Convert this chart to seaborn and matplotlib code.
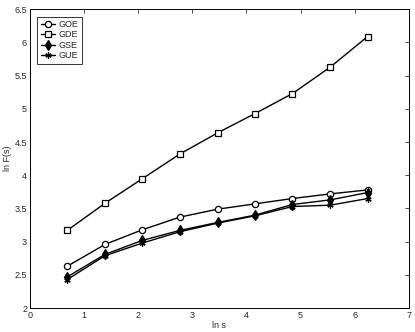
import numpy as np
import seaborn as sns
import matplotlib
matplotlib.use("Agg")
import matplotlib.pyplot as plt

# ln s values (s = 2, 4, ..., 512)
ln_s = [0.69, 1.39, 2.08, 2.77, 3.47, 4.16, 4.85, 5.55, 6.24]

goe = [2.63, 2.96, 3.18, 3.37, 3.49, 3.57, 3.65, 3.72, 3.78]
gde = [3.17, 3.58, 3.95, 4.32, 4.64, 4.93, 5.23, 5.63, 6.09]
gse = [2.47, 2.81, 3.02, 3.17, 3.29, 3.40, 3.56, 3.63, 3.74]
gue = [2.43, 2.79, 2.98, 3.15, 3.28, 3.39, 3.53, 3.55, 3.65]

series_names = ["GOE", "GDE", "GSE", "GUE"]

sns.set_style("white")
plt.rcParams["font.family"] = ["Liberation Sans", "DejaVu Sans"]
plt.rcParams["font.size"] = 6.5

fig = plt.figure(figsize=(4.15, 3.32), dpi=100)
ax = fig.add_axes([0.072, 0.072, 0.913, 0.9])

styles = {
    "GOE": dict(marker="o", mfc="white", ms=4.5),
    "GDE": dict(marker="s", mfc="white", ms=4),
    "GSE": dict(marker="d", mfc="black", ms=5.5),
    "GUE": dict(marker=(6, 2, 0), mfc="black", ms=4.5),
}
values = {"GOE": goe, "GDE": gde, "GSE": gse, "GUE": gue}

for name in series_names:
    st = styles[name]
    sns.lineplot(x=ln_s, y=values[name], ax=ax, color="black", lw=1.0,
                 marker=st["marker"], markerfacecolor=st["mfc"],
                 markeredgecolor="black", markeredgewidth=0.9,
                 markersize=st["ms"], label=name)

ax.set_xlim(0, 7)
ax.set_ylim(2, 6.5)
ax.set_xticks(range(0, 8))
ax.set_yticks(np.arange(2, 6.51, 0.5))
ax.set_yticklabels(["2", "2.5", "3", "3.5", "4", "4.5", "5", "5.5", "6", "6.5"])
ax.tick_params(direction="in", length=3, width=0.6, top=True, right=True,
               labelsize=6.5, pad=2)
for sp in ax.spines.values():
    sp.set_linewidth(0.7)
    sp.set_color("black")

ax.set_xlabel("ln s", fontsize=6.5, labelpad=1)
ax.set_ylabel("ln F(s)", fontsize=6.5, labelpad=2)

leg = ax.legend(loc="upper left", fontsize=6.5, frameon=True, fancybox=False,
                edgecolor="black", handlelength=1.6, borderpad=0.4,
                labelspacing=0.15, borderaxespad=0.8, handletextpad=0.4)
leg.get_frame().set_linewidth(0.7)

fig.savefig("out.png", dpi=100)
